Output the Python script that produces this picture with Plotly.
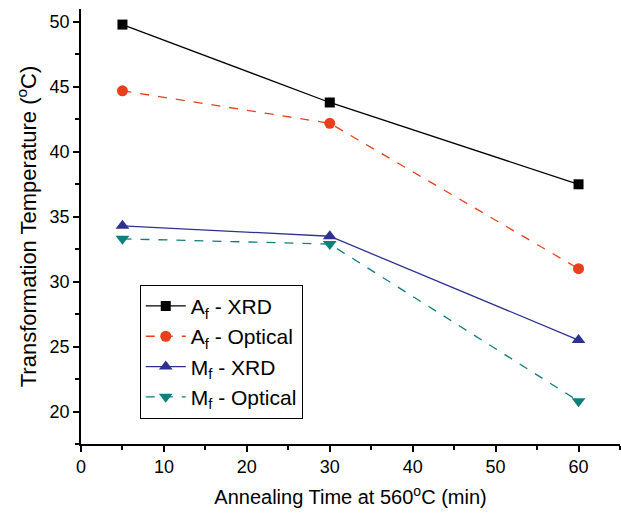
import plotly.graph_objects as go

# Annealing times (min) and transformation temperatures (°C)
anneal_time = [5, 30, 60]
af_xrd = [49.8, 43.8, 37.5]
af_optical = [44.7, 42.2, 31.0]
mf_xrd = [34.3, 33.5, 25.5]
mf_optical = [33.3, 32.9, 20.8]

series_names = [
    "A<sub>f</sub> - XRD",
    "A<sub>f</sub> - Optical",
    "M<sub>f</sub> - XRD",
    "M<sub>f</sub> - Optical",
]

styles = [
    dict(color="#000000", dash="solid", symbol="square", size=10),
    dict(color="#E8401C", dash="dash", symbol="circle", size=11),
    dict(color="#2E3192", dash="solid", symbol="triangle-up", size=12),
    dict(color="#0E7F7A", dash="dash", symbol="triangle-down", size=12),
]

fig = go.Figure()
for name, ys, st in zip(series_names, [af_xrd, af_optical, mf_xrd, mf_optical], styles):
    fig.add_trace(go.Scatter(
        x=anneal_time, y=ys, name=name, mode="lines+markers",
        line=dict(color=st["color"], width=1.3, dash=st["dash"]),
        marker=dict(color=st["color"], symbol=st["symbol"], size=st["size"]),
    ))

font_family = "Liberation Sans, Arial, sans-serif"

fig.update_layout(
    width=621, height=516,
    margin=dict(l=81, r=1, t=9, b=72),
    plot_bgcolor="white", paper_bgcolor="white",
    font=dict(family=font_family, size=18, color="#000000"),
    showlegend=True,
    legend=dict(
        x=0.109, y=0.366, xanchor="left", yanchor="top",
        bgcolor="white", bordercolor="#000000", borderwidth=1,
        font=dict(size=21), tracegroupgap=0, itemwidth=40,
    ),
    xaxis=dict(
        range=[0, 65], tick0=0, dtick=10,
        showgrid=False, zeroline=False,
        showline=True, linecolor="#000000", linewidth=1.5,
        ticks="outside", ticklen=6, tickwidth=1.5, tickcolor="#000000",
        minor=dict(ticks="outside", ticklen=4, tickwidth=1.5, tickcolor="#000000", dtick=5),
        tickfont=dict(size=18),
        title=dict(text="Annealing Time at 560<sup>o</sup>C (min)", font=dict(size=20), standoff=14),
    ),
    yaxis=dict(
        range=[17.5, 51], tick0=20, dtick=5,
        showgrid=False, zeroline=False,
        showline=True, linecolor="#000000", linewidth=1.5,
        ticks="outside", ticklen=6, tickwidth=1.5, tickcolor="#000000",
        minor=dict(ticks="outside", ticklen=4, tickwidth=1.5, tickcolor="#000000", dtick=2.5),
        tickfont=dict(size=18),
        title=dict(text="Transformation Temperature (<sup>o</sup>C)", font=dict(size=22), standoff=7),
    ),
)

fig.write_html("out.html")
